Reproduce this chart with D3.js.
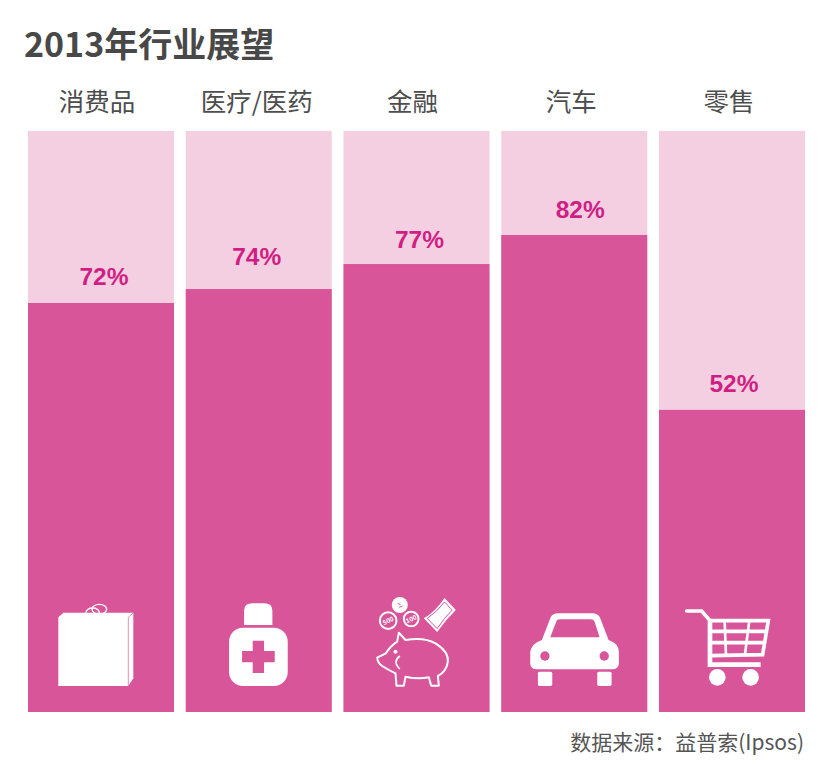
<!DOCTYPE html>
<html>
<head>
<meta charset="utf-8">
<script src="https://cdn.jsdelivr.net/npm/d3@7/dist/d3.min.js"></script>
<style>
html, body { margin: 0; padding: 0; background: #fff; }
svg { display: block; }
text { font-family: "Noto Sans CJK SC", sans-serif; }
</style>
</head>
<body>
<div id="chart"></div>
<script>
var titleText = "2013年行业展望";
var sourceText = "数据来源：益普索(Ipsos)";

var categories = ["消费品", "医疗/医药", "金融", "汽车", "零售"];
// printed percentages
var labelValues = [72, 74, 77, 82, 52];
// heights as measured in the picture, the first two bars are drawn a bit shorter than printed
var barValues = [70.4, 72.8, 77.1, 82.1, 52];
var trackMax = 100;

var width = 827, height = 768;

var svg = d3.select("#chart")
    .append("svg")
    .attr("width", width)
    .attr("height", height);

var x = d3.scaleBand()
    .domain(categories)
    .range([28, 805])
    .paddingInner(0.0745);

var y = d3.scaleLinear()
    .domain([0, trackMax])
    .range([712, 131]);

svg.append("text")
    .attr("x", 24)
    .attr("y", 57)
    .attr("fill", "#484848")
    .attr("font-weight", "bold")
    .style("font-size", "34px")
    .text(titleText);

// pale full-height tracks
svg.selectAll(".track")
    .data(categories)
    .enter().append("rect")
    .attr("class", "track")
    .attr("x", function (d) { return x(d); })
    .attr("y", y(trackMax))
    .attr("width", x.bandwidth())
    .attr("height", y(0) - y(trackMax))
    .attr("fill", "#f4cfe2");

svg.selectAll(".bar")
    .data(barValues)
    .enter().append("rect")
    .attr("class", "bar")
    .attr("x", function (d, i) { return x(categories[i]); })
    .attr("y", function (d) { return y(d); })
    .attr("width", x.bandwidth())
    .attr("height", function (d) { return y(0) - y(d); })
    .attr("fill", "#d9559a");

// category names, nudged like the original layout
var catNudge = [-4, -2, -4, -3, -3];
var axis = svg.append("g")
    .attr("transform", "translate(0,111)")
    .call(d3.axisTop(x).tickSize(0).tickPadding(0));
axis.select(".domain").remove();
axis.selectAll("text")
    .attr("x", function (d, i) { return catNudge[i]; })
    .attr("fill", "#4d4d4d")
    .style("font-size", "25.5px")
    .style("font-family", '"Noto Sans CJK SC", sans-serif');

// percent labels do not sit at a fixed gap above the bars
var labelNudge = [3, -2, 3, 6, 2];
var labelGap = [18, 24, 16, 17, 18];
svg.selectAll(".pct")
    .data(labelValues)
    .enter().append("text")
    .attr("class", "pct")
    .attr("x", function (d, i) { return x(categories[i]) + x.bandwidth() / 2 + labelNudge[i]; })
    .attr("y", function (d, i) { return y(barValues[i]) - labelGap[i]; })
    .attr("text-anchor", "middle")
    .attr("fill", "#d01f84")
    .attr("font-weight", "bold")
    .style("font-family", '"Liberation Sans", Arial, sans-serif')
    .style("font-size", "24.5px")
    .text(function (d) { return d + "%"; });

svg.append("text")
    .attr("x", 804)
    .attr("y", 750)
    .attr("text-anchor", "end")
    .attr("fill", "#555")
    .style("font-size", "21px")
    .text(sourceText);

// icons, drawn at 3x and scaled down into each bar
var white = "#fff", pink = "#d9559a";

function iconGroup(i, dx) {
    return svg.append("g")
        .attr("transform", "translate(" + (x(categories[i]) + dx) + ",590) scale(0.3333)");
}

function drawBag(g) {
    g.append("path").attr("fill", white)
        .attr("d", "M115 82L130 68H340V265L325 288H115Z");
    g.append("path").attr("fill", "none").attr("stroke", pink).attr("stroke-width", 2)
        .attr("d", "M325 82V288M325 82L340 68");
    g.append("ellipse").attr("cx", 218).attr("cy", 68).attr("rx", 20).attr("ry", 14)
        .attr("fill", "none").attr("stroke", white).attr("stroke-width", 4);
    g.append("ellipse").attr("cx", 238).attr("cy", 58).attr("rx", 22).attr("ry", 15)
        .attr("fill", "none").attr("stroke", white).attr("stroke-width", 4);
}

function drawBottle(g) {
    g.append("path").attr("fill", white)
        .attr("d", "M670 105V62Q670 40 695 40H730Q755 40 755 62V105Z");
    g.append("rect").attr("x", 625).attr("y", 113).attr("width", 176).attr("height", 175)
        .attr("rx", 42).attr("fill", white);
    g.append("path").attr("fill", pink)
        .attr("d", "M696 152H730V183H762V217H730V249H696V217H664V183H696Z");
}

function drawPig(g) {
    g.append("path")
        .attr("fill", "none").attr("stroke", white).attr("stroke-width", 6).attr("stroke-linejoin", "round")
        .attr("d", "M110 203L136 190Q150 168 170 155L175 128L195 150Q250 140 285 160Q325 185 322 215Q318 245 292 258L295 287H272L265 262Q230 268 195 260L190 287H168L165 250Q140 238 125 228Q112 220 110 203Z");
    g.append("circle").attr("cx", 165).attr("cy", 185).attr("r", 6).attr("fill", white);
    g.append("path").attr("fill", "none").attr("stroke", white).attr("stroke-width", 5)
        .attr("d", "M178 198Q155 215 178 237");
    g.append("circle").attr("cx", 178).attr("cy", 45).attr("r", 24).attr("fill", white);
    g.append("path").attr("fill", "none").attr("stroke", pink).attr("stroke-width", 3)
        .attr("d", "M172 40L180 44M176 52L186 48");
    g.append("circle").attr("cx", 143).attr("cy", 92).attr("r", 25)
        .attr("fill", "none").attr("stroke", white).attr("stroke-width", 6);
    g.append("circle").attr("cx", 212).attr("cy", 87).attr("r", 22)
        .attr("fill", "none").attr("stroke", white).attr("stroke-width", 6);
    var coins = [[143, 92, "500"], [212, 87, "100"]];
    coins.forEach(function (c) {
        g.append("text")
            .attr("transform", "translate(" + c[0] + "," + c[1] + ") rotate(-25)")
            .attr("text-anchor", "middle")
            .attr("dy", 7)
            .attr("fill", white)
            .attr("font-weight", "bold")
            .style("font-size", "19px")
            .text(c[2]);
    });
    g.append("path").attr("fill", white)
        .attr("d", "M250 85Q285 65 312 24L346 60Q315 90 290 126Z");
    g.append("path").attr("fill", "none").attr("stroke", pink).attr("stroke-width", 3)
        .attr("d", "M260 85Q288 68 312 36L335 60Q310 85 290 116Z");
}

function drawCar(g) {
    g.append("path").attr("fill", white)
        .attr("d", "M90 185Q95 160 125 150L150 85Q155 70 175 70H275Q295 70 300 85L325 150Q355 160 356 185V220Q355 238 335 238H110Q90 238 90 220Z");
    g.append("path").attr("fill", pink)
        .attr("d", "M150 142L168 95Q170 88 180 88H272Q280 88 283 95L298 142Z");
    g.append("circle").attr("cx", 134).attr("cy", 198).attr("r", 14).attr("fill", pink);
    g.append("circle").attr("cx", 312).attr("cy", 198).attr("r", 14).attr("fill", pink);
    g.append("rect").attr("x", 113).attr("y", 245).attr("width", 43).attr("height", 43).attr("rx", 5).attr("fill", white);
    g.append("rect").attr("x", 291).attr("y", 245).attr("width", 43).attr("height", 43).attr("rx", 5).attr("fill", white);
}

function drawCart(g) {
    // handle and frame
    g.append("path")
        .attr("fill", "none").attr("stroke", white).attr("stroke-width", 11).attr("stroke-linecap", "round")
        .attr("d", "M560 63H605L630 92");
    g.append("path")
        .attr("fill", "none").attr("stroke", white).attr("stroke-width", 14)
        .attr("d", "M630 92V224H782");
    // basket
    g.append("path")
        .attr("fill", "none").attr("stroke", white).attr("stroke-width", 11)
        .attr("d", "M630 92H805L788 194L632 197M632 124L798 124M632 158L792 158");
    g.append("path")
        .attr("fill", "none").attr("stroke", white).attr("stroke-width", 8)
        .attr("d", "M674 92L678 194M748 92L735 194");
    g.append("circle").attr("cx", 652).attr("cy", 262).attr("r", 25).attr("fill", white);
    g.append("circle").attr("cx", 752).attr("cy", 262).attr("r", 25).attr("fill", white);
}

drawBag(iconGroup(0, -8));
drawBottle(iconGroup(1, -165));
drawPig(iconGroup(2, -3));
drawCar(iconGroup(3, -1));
drawCart(iconGroup(4, -159));
</script>
</body>
</html>
